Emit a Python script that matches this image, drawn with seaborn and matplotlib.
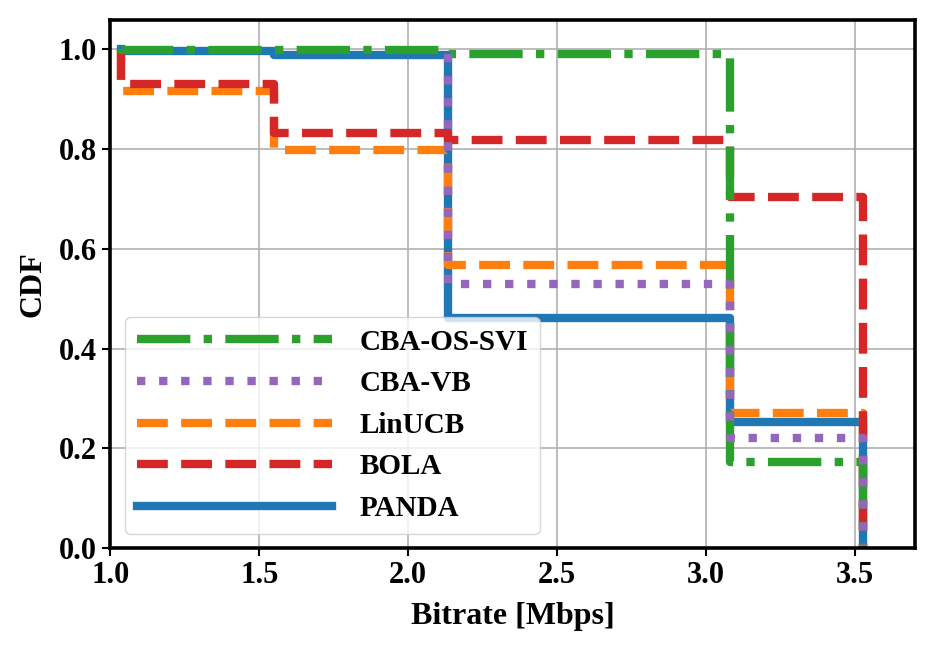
import matplotlib
matplotlib.use("Agg")
import matplotlib.pyplot as plt
import seaborn as sns
import pandas as pd

# bitrate levels (Mbps) where the curves step down
levels = [1.035, 1.55, 2.135, 3.08, 3.525]
levels_vb = [2.135, 3.08, 3.525]  # CBA-VB never picks the two lowest levels

# value of each curve after each level
panda = [0.997, 0.988, 0.462, 0.253, 0.0]
linucb = [0.916, 0.797, 0.568, 0.271, 0.0]
bola = [0.930, 0.831, 0.817, 0.703, 0.0]
cba_os_svi = [0.999, 0.999, 0.991, 0.172, 0.0]
cba_vb = [0.530, 0.221, 0.0]
start_vals = [1.0, 1.0, 1.0, 1.0, 0.99]

names = ["PANDA", "LinUCB", "BOLA", "CBA-OS-SVI", "CBA-VB"]
series = [panda, linucb, bola, cba_os_svi, cba_vb]
xlevels = [levels, levels, levels, levels, levels_vb]
colors = ["#1f77b4", "#ff7f0e", "#d62728", "#2ca02c", "#9467bd"]
styles = ["-", "--", "--", "-.", ":"]
legend_order = ["CBA-OS-SVI", "CBA-VB", "LinUCB", "BOLA", "PANDA"]

sns.set_theme(style="ticks")
plt.rcParams["font.family"] = "serif"
plt.rcParams["font.serif"] = ["Liberation Serif", "DejaVu Serif"]
plt.rcParams["font.weight"] = "bold"
plt.rcParams["axes.labelweight"] = "bold"
plt.rcParams["text.color"] = "black"
plt.rcParams["axes.labelcolor"] = "black"
plt.rcParams["xtick.color"] = "black"
plt.rcParams["ytick.color"] = "black"
plt.rcParams["lines.solid_capstyle"] = "projecting"

fig = plt.figure(figsize=(9.43, 6.48), dpi=100)
ax = fig.add_axes([0.117, 0.154, 0.853, 0.815])

for name, xs, vals, y0, c, ls in zip(names, xlevels, series, start_vals, colors, styles):
    df = pd.DataFrame({"x": [xs[0]] + xs, "y": [y0] + vals})
    sns.lineplot(data=df, x="x", y="y", ax=ax, estimator=None, sort=False,
                 drawstyle="steps-post", color=c, linestyle=ls, linewidth=6,
                 label=name)

ax.set_xlim(1.0, 3.7)
ax.set_ylim(0.0, 1.058)
ax.set_xticks([1.0, 1.5, 2.0, 2.5, 3.0, 3.5])
ax.set_yticks([0.0, 0.2, 0.4, 0.6, 0.8, 1.0])
ax.grid(True, color="#b0b0b0", linewidth=1.2)
ax.set_axisbelow(True)
for s in ax.spines.values():
    s.set_color("black")
    s.set_linewidth(2.6)
ax.tick_params(labelsize=22, length=6, width=1.5, color="black", labelcolor="black")
for lab in ax.get_xticklabels() + ax.get_yticklabels():
    lab.set_fontweight("bold")
ax.set_xlabel("Bitrate [Mbps]", fontsize=23, fontweight="bold", labelpad=8, color="black")
ax.set_ylabel("CDF", fontsize=23, fontweight="bold", labelpad=8, color="black")

handles, labels = ax.get_legend_handles_labels()
hmap = dict(zip(labels, handles))
leg = ax.legend([hmap[n] for n in legend_order], legend_order, loc="lower left",
                handlelength=6.7, handletextpad=0.95, labelspacing=0.5,
                prop={"weight": "bold", "size": 21})
for t in leg.get_texts():
    t.set_color("black")

fig.savefig("out.png", dpi=100)
